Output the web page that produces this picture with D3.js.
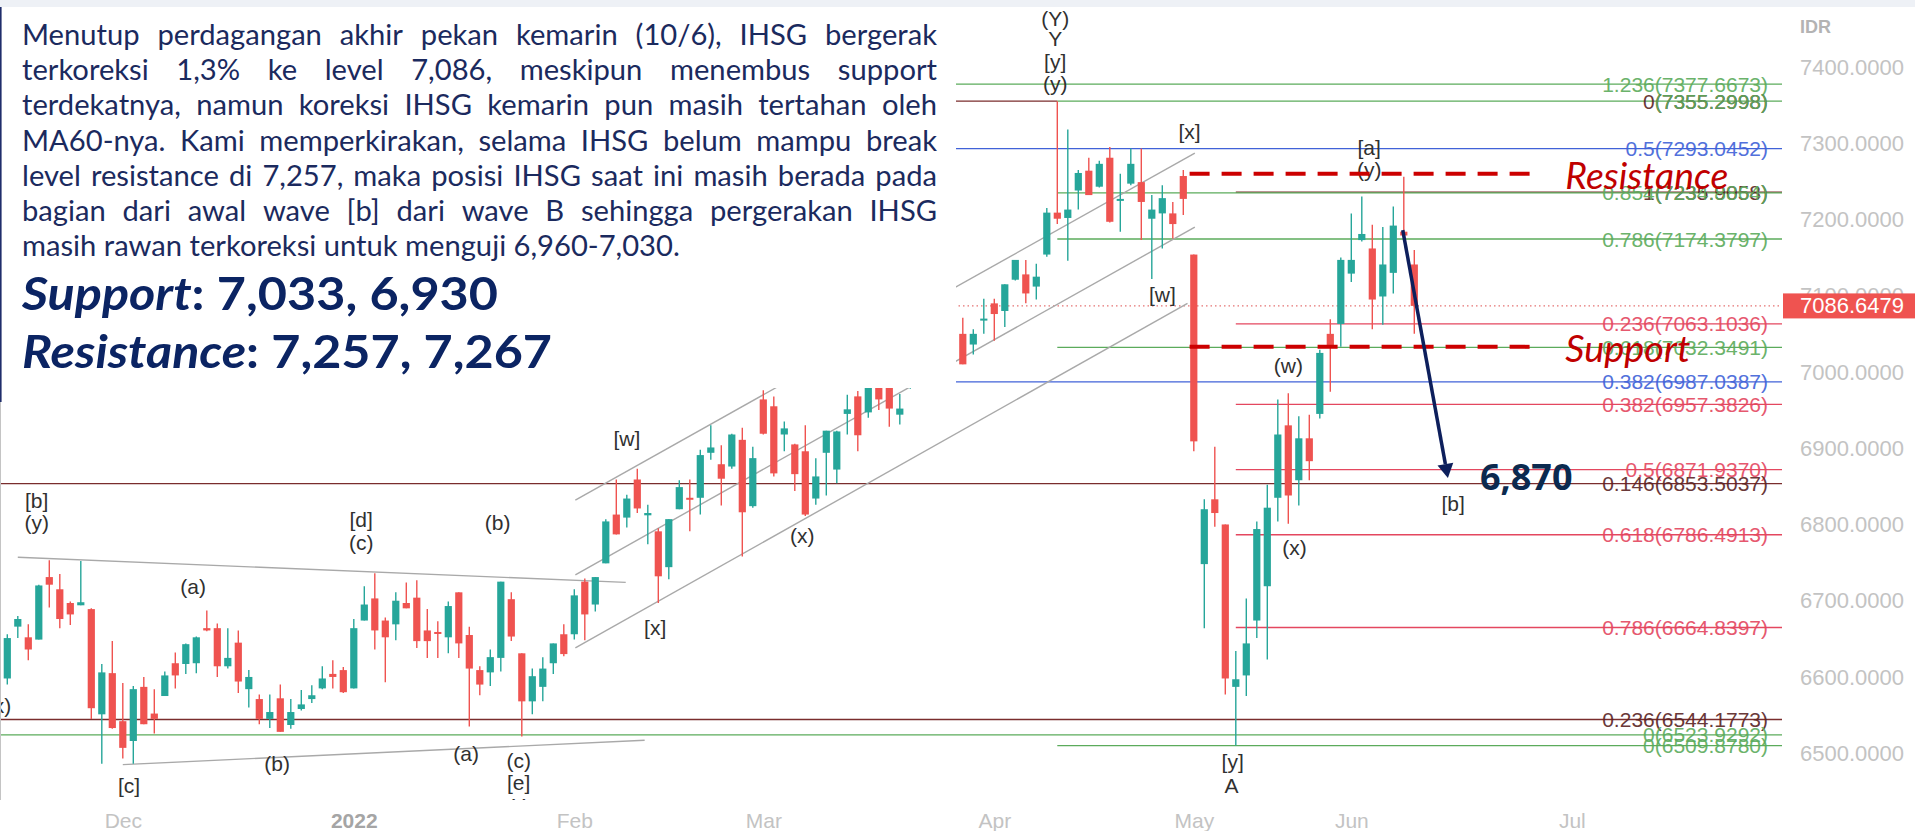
<!DOCTYPE html>
<html lang="id">
<head>
<meta charset="utf-8">
<title>IHSG daily</title>
<script src="https://cdn.jsdelivr.net/npm/d3@7/dist/d3.min.js"></script>
<style>
  html, body { margin: 0; padding: 0; background: #fff; overflow: hidden; }
  svg { display: block; }
</style>
</head>
<body>
<svg id="chart"></svg>
<script>
// IDX trading days, 15 Nov 2021 .. 10 Jun 2022
const dates = [
  '2021-11-15','2021-11-16','2021-11-17','2021-11-18','2021-11-19','2021-11-22','2021-11-23','2021-11-24','2021-11-25','2021-11-26','2021-11-29','2021-11-30',
  '2021-12-01','2021-12-02','2021-12-03','2021-12-06','2021-12-07','2021-12-08','2021-12-09','2021-12-10','2021-12-13','2021-12-14','2021-12-15','2021-12-16','2021-12-17','2021-12-20','2021-12-21','2021-12-22','2021-12-23','2021-12-24','2021-12-27','2021-12-28','2021-12-29','2021-12-30',
  '2022-01-03','2022-01-04','2022-01-05','2022-01-06','2022-01-07','2022-01-10','2022-01-11','2022-01-12','2022-01-13','2022-01-14','2022-01-17','2022-01-18','2022-01-19','2022-01-20','2022-01-21','2022-01-24','2022-01-25','2022-01-26','2022-01-27','2022-01-28','2022-01-31',
  '2022-02-02','2022-02-03','2022-02-04','2022-02-07','2022-02-08','2022-02-09','2022-02-10','2022-02-11','2022-02-14','2022-02-15','2022-02-16','2022-02-17','2022-02-18','2022-02-21','2022-02-22','2022-02-23','2022-02-24','2022-02-25',
  '2022-03-01','2022-03-02','2022-03-04','2022-03-07','2022-03-08','2022-03-09','2022-03-10','2022-03-11','2022-03-14','2022-03-15','2022-03-16','2022-03-17','2022-03-18','2022-03-21','2022-03-22','2022-03-23','2022-03-24','2022-03-25','2022-03-28','2022-03-29','2022-03-30','2022-03-31',
  '2022-04-01','2022-04-04','2022-04-05','2022-04-06','2022-04-07','2022-04-08','2022-04-11','2022-04-12','2022-04-13','2022-04-14','2022-04-18','2022-04-19','2022-04-20','2022-04-21','2022-04-22','2022-04-25','2022-04-26','2022-04-27','2022-04-28',
  '2022-05-09','2022-05-10','2022-05-11','2022-05-12','2022-05-13','2022-05-17','2022-05-18','2022-05-19','2022-05-20','2022-05-23','2022-05-24','2022-05-25','2022-05-27','2022-05-30','2022-05-31',
  '2022-06-02','2022-06-03','2022-06-06','2022-06-07','2022-06-08','2022-06-09','2022-06-10'
];

const opens = [
  6662,6598,6666,6652,6649,6731,6715,6697,6694,6689,6551,6605,
  6542,6516,6587,6552,6575,6618,6617,6618,6664,6664,6614,6645,6584,6571,6545,6572,6537,6558,6571,6585,6604,6609,
  6585,6674,6703,6674,6669,6697,6704,6661,6659,6652,6711,6655,6609,6606,6625,6702,6631,6568,6587,6618,6656,
  6656,6725,6695,6749,6813,6809,6859,6812,6791,6744,6820,6835,6835,6894,6879,6876,6911,6824,
  6964,6955,6918,6905,6896,6834,6894,6872,6945,6968,6947,7008,6985,6944,6985,7000,7049,7003,7049,7050,7036,7069,
  7090,7080,7121,7128,7112,7154,7209,7202,7238,7264,7243,7281,7226,7247,7249,7201,7208,7208,7257,
  7154,6748,6833,6800,6587,6602,6674,6719,6835,6930,6858,6913,6945,7050,7063,
  7129,7173,7162,7099,7130,7184,7141
];
const highs = [
  6670,6656,6680,6669,6721,6753,6735,6699,6752,6690,6617,6647,
  6592,6588,6600,6584,6607,6632,6644,6653,6687,6670,6664,6661,6609,6577,6577,6590,6571,6583,6589,6614,6622,6613,
  6676,6719,6736,6678,6711,6724,6727,6689,6673,6699,6711,6666,6614,6636,6725,6711,6631,6611,6626,6644,6669,
  6715,6729,6731,6807,6859,6839,6873,6826,6795,6807,6858,6859,6898,6930,6904,6919,6927,6902,
  6976,6968,6935,6906,6930,6887,6923,6923,6970,6975,6998,7015,6995,6971,7010,7055,7060,7060,7065,7071,7056,7096,
  7096,7115,7147,7147,7142,7215,7355,7318,7265,7281,7277,7295,7260,7293,7293,7232,7245,7223,7265,
  7154,6833,6902,6800,6634,6703,6804,6852,6964,6972,6942,6944,7029,7069,7150,
  7208,7230,7193,7190,7217,7256,7160
];
const lows = [
  6600,6590,6651,6622,6649,6691,6664,6668,6694,6545,6486,6532,
  6493,6486,6538,6526,6575,6585,6604,6605,6660,6600,6611,6579,6560,6538,6533,6528,6532,6556,6566,6584,6585,6579,
  6585,6674,6636,6593,6648,6690,6638,6625,6625,6631,6625,6535,6576,6588,6607,6647,6522,6551,6568,6604,6627,
  6649,6648,6686,6749,6787,6796,6815,6774,6697,6728,6820,6791,6813,6885,6825,6873,6758,6822,
  6918,6863,6896,6844,6811,6826,6838,6854,6918,6896,6940,6950,6928,6931,6978,6995,6990,7000,7025,7010,7023,7050,
  7041,7059,7120,7090,7095,7151,7194,7146,7213,7232,7242,7196,7184,7245,7173,7122,7162,7175,7206,
  6896,6664,6797,6577,6510,6575,6651,6623,6804,6801,6825,6858,6939,6974,7033,
  7118,7171,7056,7062,7103,7175,7050
];
const closes = [
  6611,6651,6676,6636,6720,6721,6676,6682,6698,6559,6606,6533,
  6507,6584,6538,6545,6602,6602,6643,6652,6661,6614,6625,6594,6600,6545,6554,6528,6554,6564,6576,6598,6600,6580,
  6664,6695,6661,6652,6700,6690,6647,6647,6657,6693,6644,6611,6590,6626,6725,6653,6568,6601,6611,6644,6630,
  6707,6682,6731,6804,6787,6834,6821,6815,6732,6807,6849,6834,6891,6901,6860,6918,6816,6887,
  6919,6867,6926,6866,6813,6863,6923,6922,6951,6917,6990,6964,6952,6952,7000,7049,7003,7049,7045,7010,7050,7070,
  7076,7115,7147,7103,7125,7209,7201,7213,7261,7232,7273,7197,7227,7273,7223,7213,7228,7194,7227,
  6909,6820,6815,6598,6597,6644,6794,6822,6918,6838,6913,6883,7025,7035,7147,
  7147,7181,7095,7141,7192,7179,7086.6479
];

// month labels sit on the first trading day; Jul is 21 sessions after 2 Jun
const monthTicks = [
  {label: 'Dec', at: 12}, {label: '2022', at: 34}, {label: 'Feb', at: 55}, {label: 'Mar', at: 73},
  {label: 'Apr', at: 95}, {label: 'May', at: 114}, {label: 'Jun', at: 129}, {label: 'Jul', at: 150}
];
const priceTicks = [6500, 6600, 6700, 6800, 6900, 7000, 7100, 7200, 7300, 7400];
const lastPrice = 7086.6479;

// fibonacci tools: set = which tool, from/to = anchor day (null = chart edge)
const fibLevels = [
  {value: 7377.6673, label: '1.236(7377.6673)', set: 'green', from: null},
  {value: 7355.2998, label: '0(7355.2998)', set: 'brown', from: null, to: '2022-04-11'},
  {value: 7355.2998, label: '(7355.2998)', set: 'green', from: '2022-04-11'},
  {value: 7293.0452, label: '0.5(7293.0452)', set: 'blue', from: null},
  {value: 7235.9058, label: '1(7235.9058)', set: 'brown', from: '2022-05-13'},
  {value: 7234.8864, label: '0.854(7234.8864)', set: 'green', from: '2022-04-11'},
  {value: 7174.3797, label: '0.786(7174.3797)', set: 'green', from: '2022-04-11'},
  {value: 7063.1036, label: '0.236(7063.1036)', set: 'red', from: '2022-05-13'},
  {value: 7032.3491, label: '0.618(7032.3491)', set: 'green', from: '2022-04-11'},
  {value: 6987.0387, label: '0.382(6987.0387)', set: 'blue', from: null},
  {value: 6957.3826, label: '0.382(6957.3826)', set: 'red', from: '2022-05-13'},
  {value: 6871.9370, label: '0.5(6871.9370)', set: 'red', from: '2022-05-13'},
  {value: 6853.5037, label: '0.146(6853.5037)', set: 'brown', from: null},
  {value: 6786.4913, label: '0.618(6786.4913)', set: 'red', from: '2022-05-13'},
  {value: 6664.8397, label: '0.786(6664.8397)', set: 'red', from: '2022-05-13'},
  {value: 6544.1773, label: '0.236(6544.1773)', set: 'brown', from: null},
  {value: 6523.9292, label: '0(6523.9292)', set: 'green', from: null},
  {value: 6509.8780, label: '0(6509.8780)', set: 'green', from: '2022-04-11'}
];

// hand drawn trend lines, [session index, price]
const trendLines = [
  [[2.0, 6757], [59.9, 6724]],
  [[12.0, 6485], [61.7, 6517]],
  [[55.1, 6832], [114.1, 7287]],
  [[55.1, 6734], [114.1, 7190]],
  [[55.1, 6638], [113.4, 7090]]
];

const waveLabels = [
  {text: '[b]', at: 3.8, value: 6832}, {text: '(y)', at: 3.8, value: 6803},
  {text: '(x)', at: 0.2, value: 6562},
  {text: '(a)', at: 18.7, value: 6718},
  {text: '[d]', at: 34.7, value: 6806}, {text: '(c)', at: 34.7, value: 6777},
  {text: '(b)', at: 47.7, value: 6803},
  {text: '[c]', at: 12.6, value: 6458},
  {text: '(b)', at: 26.7, value: 6487},
  {text: '(a)', at: 44.7, value: 6500},
  {text: '(c)', at: 49.7, value: 6491}, {text: '[e]', at: 49.7, value: 6461}, {text: 'Y', at: 49.7, value: 6431},
  {text: '[w]', at: 60.0, value: 6913},
  {text: '[x]', at: 62.7, value: 6665},
  {text: '(x)', at: 76.7, value: 6786},
  {text: '[w]', at: 111.0, value: 7101},
  {text: '[x]', at: 113.6, value: 7315},
  {text: '(Y)', at: 100.8, value: 7464}, {text: 'Y', at: 100.8, value: 7437},
  {text: '[y]', at: 100.8, value: 7407}, {text: '(y)', at: 100.8, value: 7379},
  {text: '[a]', at: 130.7, value: 7294}, {text: '(y)', at: 130.7, value: 7266},
  {text: '(w)', at: 123.0, value: 7009},
  {text: '(x)', at: 123.6, value: 6770},
  {text: '[y]', at: 117.7, value: 6489}, {text: 'A', at: 117.6, value: 6457},
  {text: '[b]', at: 138.7, value: 6828}
];

const zones = [
  {name: 'Resistance', value: 7260, from: 113.6, to: 147.1},
  {name: 'Support', value: 7033, from: 113.6, to: 147.1}
];
const targetMove = {from: [133.9, 7186], to: [138.2, 6861], label: '6,870'};

const noteLines = [
  'Menutup perdagangan akhir pekan kemarin (10/6), IHSG bergerak',
  'terkoreksi 1,3% ke level 7,086, meskipun menembus support',
  'terdekatnya, namun koreksi IHSG kemarin pun masih tertahan oleh',
  'MA60-nya. Kami memperkirakan, selama IHSG belum mampu break',
  'level resistance di 7,257, maka posisi IHSG saat ini masih berada pada',
  'bagian dari awal wave [b] dari wave B sehingga pergerakan IHSG',
  'masih rawan terkoreksi untuk menguji 6,960-7,030.'
];
const keyLevels = [
  {label: 'Support', values: '7,033, 6,930'},
  {label: 'Resistance', values: '7,257, 7,267'}
];

const palette = {green: '#5bab5b', red: '#e4475f', blue: '#4062d8', brown: '#7a2d2d', up: '#26a69a', down: '#ef5350'};

class WaveChart {
    constructor(_config) {
        this.config = {
            parentElement: _config.parentElement,
            containerWidth: 1915,
            containerHeight: 831,
            plot: {left: 0, top: 7, right: 1782, bottom: 800}
        }
        this.initVis();
    }

    initVis() {
        let vis = this;
        const c = vis.config;

        vis.data = dates.map((d, i) => ({date: d, i: i, open: opens[i], high: highs[i], low: lows[i], close: closes[i]}));

        // one slot per trading session
        vis.xScale = d3.scaleLinear()
            .domain([0, 150])
            .range([-3.2, 1571.8]);

        vis.yScale = d3.scaleLinear()
            .domain([6500, 7400])
            .range([753.2, 67]);

        vis.xAxis = d3.axisBottom(vis.xScale)
            .tickValues(monthTicks.map(d => d.at))
            .tickFormat((d, i) => monthTicks[i].label)
            .tickSize(0)
            .tickPadding(13);

        vis.yAxis = d3.axisRight(vis.yScale)
            .tickValues(priceTicks)
            .tickFormat(d3.format('.4f'))
            .tickSize(0)
            .tickPadding(0);

        vis.svg = d3.select(c.parentElement)
            .attr('width', c.containerWidth)
            .attr('height', c.containerHeight);

        vis.svg.append('defs').append('clipPath')
            .attr('id', 'plot-clip')
          .append('rect')
            .attr('x', c.plot.left)
            .attr('y', c.plot.top)
            .attr('width', c.plot.right - c.plot.left)
            .attr('height', c.plot.bottom - c.plot.top);

        vis.svg.append('rect')
            .attr('width', c.containerWidth)
            .attr('height', 7)
            .attr('fill', '#eef1f6');

        vis.chart = vis.svg.append('g')
            .attr('clip-path', 'url(#plot-clip)');

        vis.renderVis();
    }

    renderVis() {
        let vis = this;
        const c = vis.config;
        const xAt = d => d === null || d === undefined ? null : vis.xScale(dates.indexOf(d));

        // fibonacci levels
        const fib = vis.chart.append('g').attr('class', 'fib');
        fibLevels.forEach(f => {
            const y = vis.yScale(f.value);
            fib.append('line')
                .attr('x1', xAt(f.from) ?? c.plot.left)
                .attr('x2', xAt(f.to) ?? c.plot.right)
                .attr('y1', y).attr('y2', y)
                .attr('stroke', palette[f.set])
                .attr('stroke-width', 1.3);
        });

        // last price, dotted
        vis.chart.append('line')
            .attr('x1', c.plot.left).attr('x2', c.plot.right)
            .attr('y1', vis.yScale(lastPrice)).attr('y2', vis.yScale(lastPrice))
            .attr('stroke', '#e57373')
            .attr('stroke-width', 1.2)
            .attr('stroke-dasharray', '1.5,3');

        fibLevels.filter(f => f.label).forEach(f => {
            fib.append('text')
                .attr('x', c.plot.right - 14)
                .attr('y', vis.yScale(f.value))
                .attr('text-anchor', 'end')
                .attr('dominant-baseline', 'central')
                .attr('font-family', '"Liberation Sans", Arial, sans-serif')
                .attr('font-size', 21)
                .attr('fill', f.set === 'brown' ? '#5a2424' : palette[f.set])
                .attr('opacity', 0.9)
                .text(f.label);
        });

        // channel and triangle lines
        vis.chart.selectAll('.trend')
            .data(trendLines)
          .join('line')
            .attr('class', 'trend')
            .attr('x1', d => vis.xScale(d[0][0])).attr('y1', d => vis.yScale(d[0][1]))
            .attr('x2', d => vis.xScale(d[1][0])).attr('y2', d => vis.yScale(d[1][1]))
            .attr('stroke', '#a9a9a9')
            .attr('stroke-width', 1.4);

        // candles
        const colour = d => d.close >= d.open ? palette.up : palette.down;
        const candle = vis.chart.selectAll('.candle')
            .data(vis.data)
          .join('g')
            .attr('class', 'candle');

        candle.append('line')
            .attr('x1', d => vis.xScale(d.i)).attr('x2', d => vis.xScale(d.i))
            .attr('y1', d => vis.yScale(d.high)).attr('y2', d => vis.yScale(d.low))
            .attr('stroke', colour)
            .attr('stroke-width', 1.4);

        candle.append('rect')
            .attr('x', d => vis.xScale(d.i) - 3.6)
            .attr('width', 7.2)
            .attr('y', d => vis.yScale(Math.max(d.open, d.close)))
            .attr('height', d => Math.max(2, Math.abs(vis.yScale(d.open) - vis.yScale(d.close))))
            .attr('fill', colour);

        // elliott wave counts
        vis.chart.selectAll('.wave')
            .data(waveLabels)
          .join('text')
            .attr('class', 'wave')
            .attr('x', d => vis.xScale(d.at))
            .attr('y', d => vis.yScale(d.value))
            .attr('text-anchor', 'middle')
            .attr('dominant-baseline', 'central')
            .attr('font-family', '"Liberation Sans", Arial, sans-serif')
            .attr('font-size', 21)
            .attr('fill', '#303030')
            .text(d => d.text);

        // support / resistance
        zones.forEach(z => {
            const y = vis.yScale(z.value);
            vis.chart.append('line')
                .attr('x1', vis.xScale(z.from)).attr('x2', vis.xScale(z.to))
                .attr('y1', y).attr('y2', y)
                .attr('stroke', '#cc0000')
                .attr('stroke-width', 4)
                .attr('stroke-dasharray', '20,12');
            vis.chart.append('text')
                .attr('x', vis.xScale(z.to) + 24)
                .attr('y', y + 15)
                .attr('font-family', 'Lato, "Open Sans", sans-serif')
                .attr('font-style', 'italic')
                .attr('font-size', 37)
                .attr('fill', '#c00000')
                .attr('textLength', z.name === 'Resistance' ? 163 : 125)
                .attr('lengthAdjust', 'spacingAndGlyphs')
                .text(z.name);
        });

        // projected move
        const x1 = vis.xScale(targetMove.from[0]), y1 = vis.yScale(targetMove.from[1]);
        const x2 = vis.xScale(targetMove.to[0]), y2 = vis.yScale(targetMove.to[1]);
        const ang = Math.atan2(y2 - y1, x2 - x1);
        const bx = x2 - 14 * Math.cos(ang), by = y2 - 14 * Math.sin(ang);
        vis.chart.append('line')
            .attr('x1', x1).attr('y1', y1).attr('x2', bx).attr('y2', by)
            .attr('stroke', '#0d1f5c')
            .attr('stroke-width', 3.5);
        vis.chart.append('path')
            .attr('d', `M${x2},${y2}L${bx + 8 * Math.sin(ang)},${by - 8 * Math.cos(ang)}L${bx - 8 * Math.sin(ang)},${by + 8 * Math.cos(ang)}Z`)
            .attr('fill', '#0d1f5c');
        vis.chart.append('text')
            .attr('x', x2 + 32)
            .attr('y', y2 + 12)
            .attr('font-family', '"Open Sans", sans-serif')
            .attr('font-weight', 700)
            .attr('font-size', 36)
            .attr('fill', '#0b2a4f')
            .text(targetMove.label);

        // commentary panel laid over the chart
        vis.svg.append('rect')
            .attr('x', 0).attr('y', 7)
            .attr('width', 956).attr('height', 381)
            .attr('fill', '#fff');
        vis.svg.append('line')
            .attr('x1', 0.5).attr('x2', 0.5).attr('y1', 7).attr('y2', c.plot.bottom)
            .attr('stroke', '#c4c4c4');
        vis.svg.append('line')
            .attr('x1', 0.8).attr('x2', 0.8).attr('y1', 7).attr('y2', 402)
            .attr('stroke', '#1f2d6b')
            .attr('stroke-width', 1.6);

        const note = vis.svg.append('g')
            .attr('fill', '#1b2a5e')
            .attr('font-family', 'Lato, "Open Sans", sans-serif');
        // size the face so that the closing line keeps its width
        const probe = note.append('text').attr('font-size', 27).text(noteLines[noteLines.length - 1]);
        const fs = 27 * 658 / probe.node().getComputedTextLength();
        probe.remove();
        note.attr('font-size', fs);

        noteLines.forEach((line, li) => {
            const y = 45 + li * 35.2;
            if (li === noteLines.length - 1) {
                note.append('text').attr('x', 22).attr('y', y).text(line);
                return;
            }
            const words = line.split(' ');
            const nodes = words.map(w => note.append('text').attr('y', y).text(w));
            const widths = nodes.map(n => n.node().getComputedTextLength());
            const gap = (915 - d3.sum(widths)) / (words.length - 1);
            let x = 22;
            nodes.forEach((n, k) => { n.attr('x', x); x += widths[k] + gap; });
        });

        keyLevels.forEach((k, li) => {
            const t = vis.svg.append('text')
                .attr('x', 22)
                .attr('y', 310 + li * 58)
                .attr('font-family', 'Lato, "Open Sans", sans-serif')
                .attr('font-weight', 700)
                .attr('font-size', 46)
                .attr('fill', '#0b2463')
                .attr('textLength', li ? 530 : 476)
                .attr('lengthAdjust', 'spacingAndGlyphs');
            t.append('tspan').attr('font-style', 'italic').text(k.label);
            t.append('tspan').text(': ' + k.values);
        });

        // axes
        vis.xAxisG = vis.svg.append('g')
            .attr('class', 'axis x-axis')
            .attr('transform', `translate(0,${c.plot.bottom})`)
            .call(vis.xAxis);
        vis.xAxisG.select('.domain').remove();
        vis.xAxisG.selectAll('text')
            .attr('font-family', '"Liberation Sans", Arial, sans-serif')
            .attr('font-size', 21)
            .attr('fill', (d, i) => /^\d{4}$/.test(monthTicks[i].label) ? '#a5a5a5' : '#c3c3c3')
            .attr('font-weight', (d, i) => /^\d{4}$/.test(monthTicks[i].label) ? 700 : 400);

        vis.yAxisG = vis.svg.append('g')
            .attr('class', 'axis y-axis')
            .attr('transform', 'translate(1800,0)')
            .call(vis.yAxis);
        vis.yAxisG.select('.domain').remove();
        vis.yAxisG.selectAll('text')
            .attr('font-family', '"Liberation Sans", Arial, sans-serif')
            .attr('font-size', 22)
            .attr('fill', '#c3c3c3');

        vis.svg.append('text')
            .attr('x', 1800).attr('y', 33)
            .attr('font-family', '"Liberation Sans", Arial, sans-serif')
            .attr('font-weight', 700)
            .attr('font-size', 18)
            .attr('fill', '#b3b3b3')
            .text('IDR');

        const py = vis.yScale(lastPrice);
        vis.svg.append('rect')
            .attr('x', 1783).attr('y', py - 12.5)
            .attr('width', 132).attr('height', 25)
            .attr('fill', '#ef5350');
        vis.svg.append('text')
            .attr('x', 1800).attr('y', py)
            .attr('dominant-baseline', 'central')
            .attr('font-family', '"Liberation Sans", Arial, sans-serif')
            .attr('font-size', 22)
            .attr('fill', '#fff')
            .text(d3.format('.4f')(lastPrice));
    }
}

new WaveChart({parentElement: '#chart'});
</script>
</body>
</html>
